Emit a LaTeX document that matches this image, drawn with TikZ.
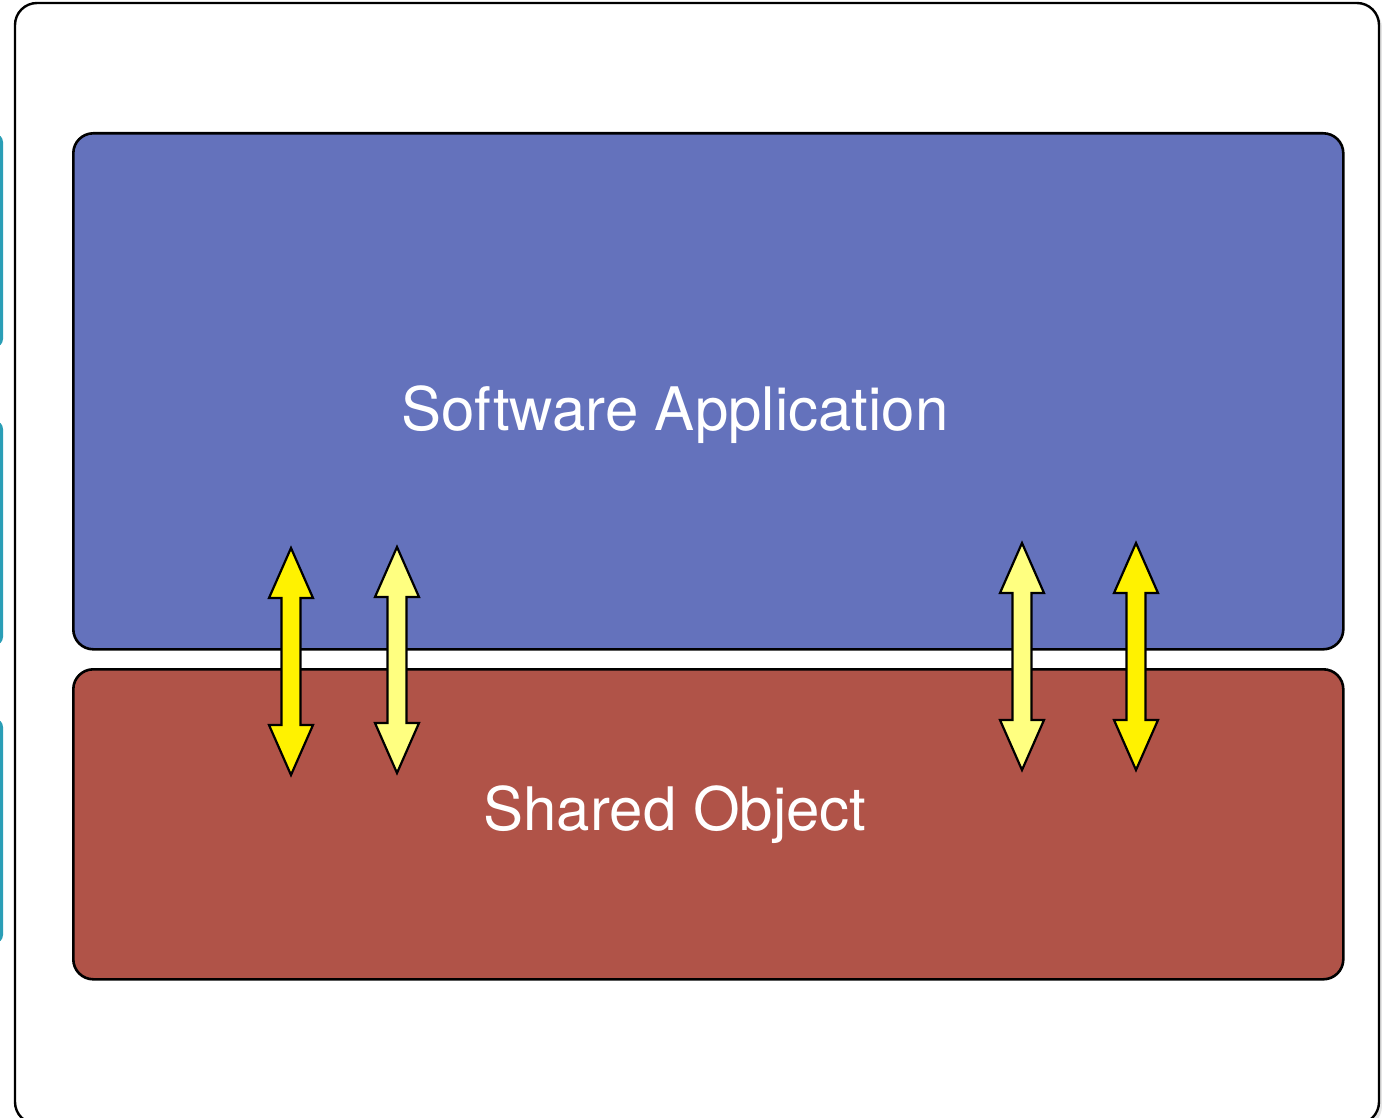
\documentclass[tikz,border=0pt]{standalone}
\usepackage{fontspec}
\setmainfont{TeX Gyre Heros}
\definecolor{appblue}{RGB}{100,114,188}
\definecolor{objred}{RGB}{176,83,72}
\definecolor{tealtab}{RGB}{42,158,182}
\definecolor{paleyellow}{RGB}{255,255,128}
\tikzset{
  x=1pt, y=-1pt,
  frame/.style={draw=black, line width=2.4pt, fill=white, rounded corners=22pt},
  layer/.style={draw=black, line width=2.6pt, rounded corners=20pt},
  layertext/.style={text=white, inner sep=0pt, font=\fontsize{60}{62}\selectfont},
  tab/.style={fill=tealtab, rounded corners=8pt},
  flow/.style={draw=black, line width=2.2pt, line join=miter},
}
% vertical two-headed arrow: centre x, top tip y, bottom tip y, fill
\newcommand{\twoway}[4]{%
  \path[flow, fill=#4]
    (#1,#2) -- (#1+22,#2+50) -- (#1+9.5,#2+50) -- (#1+9.5,#3-50)
    -- (#1+22,#3-50) -- (#1,#3) -- (#1-22,#3-50) -- (#1-9.5,#3-50)
    -- (#1-9.5,#2+50) -- (#1-22,#2+50) -- cycle;}
\begin{document}
\begin{tikzpicture}
\useasboundingbox (0,0) rectangle (1382,1118);
\clip (0,0) rectangle (1382,1118);
\fill[white] (0,0) rectangle (1382,1118);
% tabs peeking in at the left edge
\fill[tab] (-20,134) rectangle (3,347);
\fill[tab] (-20,421) rectangle (3,645);
\fill[tab] (-20,719) rectangle (3,943);
% soft shadow and outer frame
\fill[black!10, rounded corners=22pt] (17,6) rectangle (1382,1128);
\path[frame] (15,3) rectangle (1379,1124);
% the two layers
\node[layer, fill=appblue, minimum width=1270pt, minimum height=516pt, anchor=north west] (app) at (72,132) {};
\node[layer, fill=objred, minimum width=1270pt, minimum height=310pt, anchor=north west] (so) at (72,668) {};
\node[layertext] (apptext) at (675,415) {Software Application};
\node[layertext] (sotext) at (675,815) {Shared Object};
% calls crossing between them
\twoway{291}{548}{775}{yellow}
\twoway{397}{547}{773}{paleyellow}
\twoway{1022}{543}{770}{paleyellow}
\twoway{1136}{543}{770}{yellow}
\end{tikzpicture}
\end{document}
